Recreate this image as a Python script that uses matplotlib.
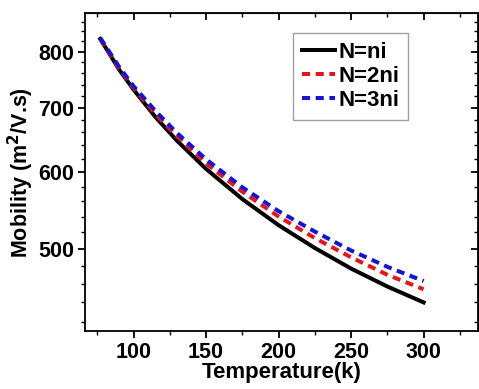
import matplotlib
matplotlib.use("Agg")
import matplotlib.pyplot as plt
from matplotlib.ticker import FixedLocator, NullFormatter, FixedFormatter

plt.rcParams['font.family'] = ['Liberation Sans', 'DejaVu Sans']
plt.rcParams['font.weight'] = 'bold'
plt.rcParams['mathtext.default'] = 'bf'

temperature = [77, 90, 100, 115, 130, 150, 175, 200, 225, 250, 275, 300]
mobility_ni = [825, 767, 731, 685, 647, 605, 563, 529, 501, 477, 457, 440]
mobility_2ni = [825, 769, 734, 690, 654, 613, 573, 540, 513, 490, 470, 454]
mobility_3ni = [827, 772, 737, 695, 659, 619, 579, 547, 521, 498, 479, 463]
labels = ["N=ni", "N=2ni", "N=3ni"]

x_major = [100, 150, 200, 250, 300]
x_minor = [75, 125, 175, 225, 275, 325]
y_major = [500, 600, 700, 800]
y_minor = [420, 440, 460, 480, 520, 540, 560, 580, 620, 640, 660, 680,
           720, 740, 760, 780, 820, 840, 860]

fig = plt.figure(figsize=(4.79, 3.89), dpi=100)
ax = fig.add_axes([85/479, 58/389, 393/479, 317.7/389])

ax.plot(temperature, mobility_ni, color='black', lw=2.9, label=labels[0])
ax.plot(temperature, mobility_2ni, color='#e8141c', lw=2.9, dashes=(2.0, 1.4), label=labels[1])
ax.plot(temperature, mobility_3ni, color='#1414d8', lw=2.9, dashes=(2.0, 1.4), label=labels[2])

ax.set_yscale('log')
ax.set_xlim(66.5, 337.5)
ax.set_ylim(411, 877)

ax.xaxis.set_major_locator(FixedLocator(x_major))
ax.xaxis.set_minor_locator(FixedLocator(x_minor))
ax.yaxis.set_major_locator(FixedLocator(y_major))
ax.yaxis.set_major_formatter(FixedFormatter([str(v) for v in y_major]))
ax.yaxis.set_minor_locator(FixedLocator(y_minor))
ax.yaxis.set_minor_formatter(NullFormatter())

ax.tick_params(axis='both', which='major', direction='out', length=5, width=1.3,
               labelsize=15.5, pad=3)
ax.tick_params(axis='both', which='minor', direction='out', length=3, width=1.0)
for lab in ax.get_xticklabels() + ax.get_yticklabels():
    lab.set_fontweight('bold')

# mirrored inward ticks on top/right
axt = ax.secondary_xaxis('top')
axt.xaxis.set_major_locator(FixedLocator(x_major))
axt.xaxis.set_minor_locator(FixedLocator(x_minor))
axt.tick_params(which='major', direction='in', length=5, width=1.3, labeltop=False)
axt.tick_params(which='minor', direction='in', length=3, width=1.0)
axt.set_xticklabels([])
axr = ax.secondary_yaxis('right')
axr.yaxis.set_major_locator(FixedLocator(y_major))
axr.yaxis.set_minor_locator(FixedLocator(y_minor))
axr.yaxis.set_minor_formatter(NullFormatter())
axr.tick_params(which='major', direction='in', length=5, width=1.3, labelright=False)
axr.tick_params(which='minor', direction='in', length=3, width=1.0)
axr.set_yticklabels([])

for s in ax.spines.values():
    s.set_linewidth(1.3)

ax.set_xlabel('Temperature(k)', fontsize=16, fontweight='bold', labelpad=-1)
ax.set_ylabel('Mobility (m$^\\mathbf{2}$/V.s)', fontsize=15.5, fontweight='bold', labelpad=1)

leg = ax.legend(loc='upper left', bbox_to_anchor=(0.5285, 0.939), borderaxespad=0,
                fontsize=16, frameon=True, fancybox=False, handlelength=1.5,
                handletextpad=0.15, labelspacing=0.15, borderpad=0.4)
leg.get_frame().set_edgecolor('#888888')
leg.get_frame().set_linewidth(1.0)
for t in leg.get_texts():
    t.set_fontweight('bold')

fig.savefig('out.png', dpi=100)
